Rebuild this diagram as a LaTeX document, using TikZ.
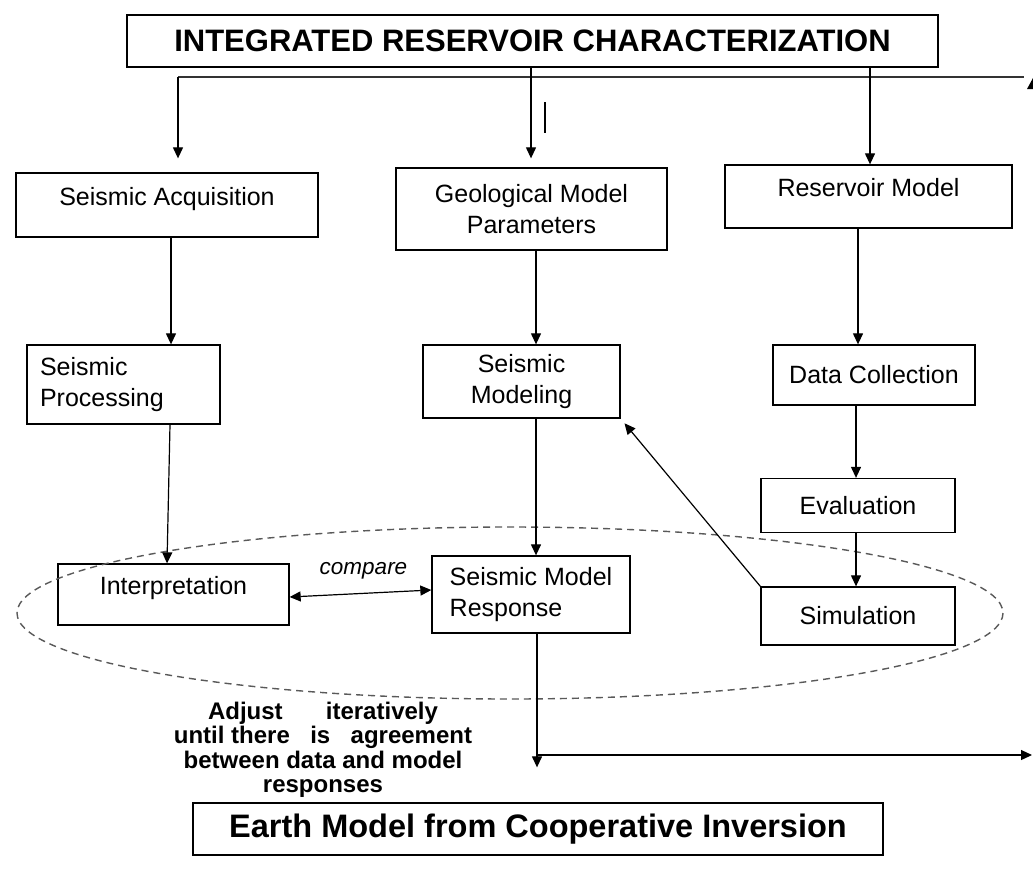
\documentclass[tikz,border=0pt]{standalone}
\usepackage{fontspec}
\setmainfont{Liberation Sans}
\usetikzlibrary{arrows.meta}
\begin{document}
\begin{tikzpicture}[x=1pt,y=-1pt,
  box/.style={draw, line width=1.3pt, inner sep=0pt, align=center,
    font=\fontsize{25}{30.5}\selectfont},
  raised/.style={text depth=18pt},
  arr/.style={-{Triangle[length=11pt,width=10pt]}, line width=1.2pt},
  dbl/.style={{Triangle[length=11pt,width=10pt]}-{Triangle[length=11pt,width=10pt]}, line width=1.2pt},
  titlefont/.style={font=\fontsize{31}{36}\selectfont\bfseries},
  earthfont/.style={font=\fontsize{32.5}{38}\selectfont\bfseries},
  notefont/.style={font=\fontsize{24}{24.5}\selectfont\bfseries, align=center},
]
\useasboundingbox (0,0) rectangle (1033,884);

% boxes
\node[box, titlefont, minimum width=811pt, minimum height=52pt] (title) at (532.5,41) {INTEGRATED RESERVOIR CHARACTERIZATION};
\node[box, raised, minimum width=302pt, minimum height=64pt] (acq) at (167,205) {Seismic Acquisition};
\node[box, minimum width=271pt, minimum height=82pt] (geo) at (531.5,209) {Geological Model\\Parameters};
\node[box, raised, minimum width=287pt, minimum height=63pt] (res) at (868.5,196.5) {Reservoir Model};
\node[box, align=left, text width=167pt, inner xsep=13pt, minimum height=79pt] (proc) at (123.5,384.5) {Seismic\\Processing};
\node[box, minimum width=197pt, minimum height=73pt] (smod) at (521.5,381.5) {Seismic\\Modeling};
\node[box, minimum width=202pt, minimum height=60pt] (dcol) at (874,375) {Data Collection};
\node[box, minimum width=194pt, minimum height=54pt] (eval) at (858,505.5) {Evaluation};
\node[box, minimum width=194pt, minimum height=58pt] (sim) at (858,616) {Simulation};
\node[box, raised, minimum width=231pt, minimum height=61pt] (interp) at (173.5,594.5) {Interpretation};
\node[box, align=left, minimum width=198pt, minimum height=77pt] (resp) at (531,594.5) {Seismic Model\\Response};
\node[box, earthfont, minimum width=690pt, minimum height=52pt] (earth) at (538,829) {Earth Model from Cooperative Inversion};

% dashed ellipse
\draw[dash pattern=on 7pt off 5pt, line width=1.4pt, black!65] (510,613) ellipse [x radius=493, y radius=86];

% bus line from the title
\coordinate (busL) at (178,77);
\coordinate (busR) at (1024,77);
\coordinate (xA) at (178,0);
\coordinate (xG) at (531,0);
\coordinate (xR) at (870,0);
\draw[line width=1.3pt, black!80] (busL) -- (busR);
\fill (1027,89) -- (1033,78) -- (1033,89) -- cycle;
\draw[arr, shorten >=14pt] (busL) -- (acq.north -| xA);
\draw[arr, shorten >=9pt] (title.south -| xG) -- (geo.north -| xG);
\draw[arr] (title.south -| xR) -- (res.north -| xR);
\draw[line width=1.3pt] (545,102) -- (545,133);

% column arrows
\coordinate (xP) at (171,0);
\coordinate (xM) at (536,0);
\coordinate (xD) at (858,0);
\coordinate (xE) at (856,0);
\draw[arr] (acq.south -| xP) -- (proc.north -| xP);
\draw[arr] (geo.south -| xM) -- (smod.north -| xM);
\draw[arr] (res.south -| xD) -- (dcol.north -| xD);
\draw[arr] (dcol.south -| xE) -- (eval.north -| xE);
\draw[arr] (eval.south -| xE) -- (sim.north -| xE);
\draw[arr] ([xshift=46.5pt]proc.south) -- ([xshift=-6.5pt]interp.north);
\draw[arr] (smod.south -| xM) -- (resp.north -| xM);
\draw[dbl] ([yshift=-2.5pt]interp.east) -- node[above=10pt, xshift=3pt, font=\fontsize{22.5}{26}\selectfont\itshape] (cmp) {compare} ([yshift=4.5pt]resp.west);
\draw[arr, shorten >=6pt] (sim.north west) -- (smod.south east);

% output
\coordinate (xO) at (537,0);
\coordinate (branch) at (537,755);
\coordinate (rightend) at (1032,755);
\draw[arr, shorten >=35pt] (resp.south -| xO) -- (earth.north -| xO);
\draw[arr] (branch) -- (rightend);

\node[notefont] (note) at (323,750) {Adjust\hspace{1.8em}iteratively\\until there\hspace{0.85em}is\hspace{0.85em}agreement\\between data and model\\responses};
\end{tikzpicture}
\end{document}
